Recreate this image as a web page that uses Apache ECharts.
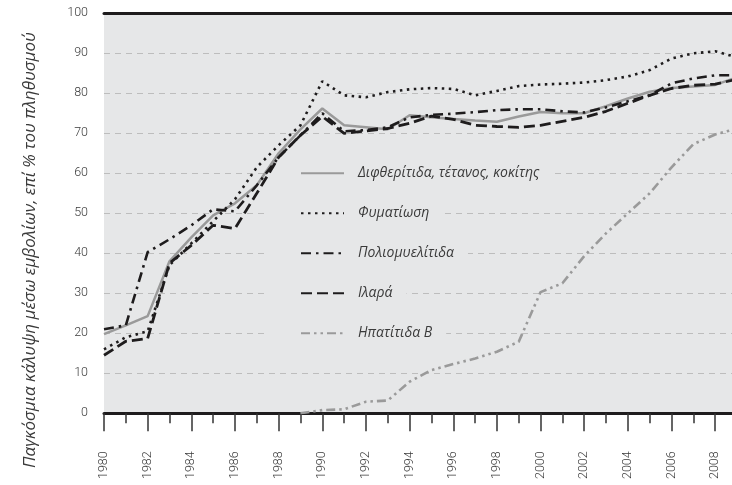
<!DOCTYPE html>
<html><head><meta charset="utf-8">
<script src="https://cdn.jsdelivr.net/npm/echarts@6/dist/echarts.min.js"></script>
<style>html,body{margin:0;padding:0;background:#fff}#c{width:732px;height:485px}</style>
</head><body><div id="c"></div>
<script>
const years = [1980,1981,1982,1983,1984,1985,1986,1987,1988,1989,1990,1991,1992,1993,1994,1995,1996,1997,1998,1999,2000,2001,2002,2003,2004,2005,2006,2007,2008,2009];
const dtp = [19.8,22,24.3,38,44,49.5,52.5,57,65,71,76.2,72,71.5,71,74.5,74,73.6,73.2,72.9,74.2,75.3,75,75,76.8,78.7,80.4,81.3,81.7,82.1,84];
const tb = [16,19,20.5,37,42.5,48,53.5,61.5,67,72,83,79.5,79,80.3,81,81.3,81.1,79.5,80.6,81.8,82.2,82.4,82.7,83.3,84.2,85.8,88.7,90,90.5,89];
const polio = [21,22,40.3,43.5,47,51,50.5,57,64,69.5,75,70.5,70.8,71.5,74,74.6,74.9,75.3,75.8,76,76,75.5,75.2,76.5,78,79.5,82.5,83.7,84.5,84.5];
const measles = [14.5,18,18.7,37.5,42,47,46.2,55,64,69.5,74.2,70,70.6,71.2,72.5,74.3,73.5,72,71.7,71.5,72,73,74,75.5,77.5,79.5,81.2,82,82.3,83.5];
const hepb = [null,null,null,null,null,null,null,null,null,0,0.8,1,2.9,3.2,7.9,10.8,12.3,13.7,15.4,17.9,30.3,32.5,39.3,45,50,55,61.5,67.3,69.7,71.2];
const names = ['Διφθερίτιδα, τέτανος, κοκίτης','Φυματίωση','Πολιομυελίτιδα','Ιλαρά','Ηπατίτιδα Β'];
const yTitle = 'Παγκόσμια κάλυψη μέσω εμβολίων, επί % του πληθυσμού';
const majorYears = [1980,1982,1984,1986,1988,1990,1992,1994,1996,1998,2000,2002,2004,2006,2008];
const minorYears = [1981,1983,1985,1987,1989,1991,1993,1995,1997,1999,2001,2003,2005,2007];

const BG = '#e6e7e8', BLACK = '#1e1c1d', GRAY = '#9a9a9a', TXT = '#3a3a3a';
const X_MIN = 1980, X_MAX = 2008.77;
const pairs = arr => years.map((y,i) => [y, arr[i]]);
const styles = [
  {color: GRAY, width: 2.5, type: 'solid'},
  {color: BLACK, width: 2.6, type: [2.5, 4.5]},
  {color: BLACK, width: 2.6, type: [10, 5, 2.5, 5]},
  {color: BLACK, width: 2.8, type: [11, 5]},
  {color: GRAY, width: 2.6, type: [9, 4, 2.5, 4, 2.5, 4]}
];
const dataSets = [dtp, tb, polio, measles, hepb];
const legendY = [173.3, 213.3, 253.3, 293.3, 333.3];
const labelFont = {fontFamily: 'Roboto', fontWeight: 300, fontSize: 12.5, color: TXT};

const chart = echarts.init(document.getElementById('c'), null, {renderer: 'canvas'});
chart.setOption({
  animation: false,
  backgroundColor: '#fff',
  grid: {left: 104, right: 0, top: 13.3, bottom: 71.7, show: true, backgroundColor: BG, borderWidth: 0},
  xAxis: [{
    type: 'value', min: X_MIN, max: X_MAX, position: 'bottom',
    axisLine: {show: true, onZero: false, lineStyle: {color: BLACK, width: 3}},
    axisTick: {show: true, customValues: majorYears, length: 18, lineStyle: {color: '#333', width: 1.5}},
    splitLine: {show: false},
    axisLabel: Object.assign({rotate: 90, margin: 38, customValues: majorYears, formatter: v => String(Math.round(v))}, labelFont)
  }, {
    type: 'value', min: X_MIN, max: X_MAX, position: 'bottom',
    axisLine: {show: false, onZero: false},
    axisTick: {show: true, customValues: minorYears, length: 10, lineStyle: {color: '#333', width: 1.5}},
    axisLabel: {show: false}, splitLine: {show: false}
  }, {
    type: 'value', min: X_MIN, max: X_MAX, position: 'top',
    axisLine: {show: true, onZero: false, lineStyle: {color: BLACK, width: 3}},
    axisTick: {show: false}, axisLabel: {show: false}, splitLine: {show: false}
  }],
  yAxis: {
    type: 'value', min: 0, max: 100, interval: 10,
    axisLine: {show: false}, axisTick: {show: false},
    axisLabel: Object.assign({margin: 16}, labelFont),
    splitLine: {show: true, lineStyle: {color: '#bdbdbd', width: 1, type: [6, 5]}}
  },
  legend: names.map((n, i) => ({
    data: [n], left: 268, top: legendY[i] - 9, orient: 'horizontal', z: 1,
    backgroundColor: BG, padding: [2, 14, 2, 32],
    itemWidth: 43, itemHeight: 14, selectedMode: false,
    itemStyle: {color: 'rgba(0,0,0,0)', borderWidth: 0, opacity: 0},
    textStyle: {fontFamily: "'Open Sans'", fontStyle: 'italic', fontSize: 14, color: TXT, padding: [0, 0, 0, 9]}
  })),
  graphic: [{
    type: 'text', x: 30, y: 250, rotation: Math.PI / 2,
    style: {text: yTitle, font: "italic 17px 'Open Sans'", fill: TXT, align: 'center', verticalAlign: 'middle'}
  }],
  series: names.map((n, i) => ({
    name: n, type: 'line', data: pairs(dataSets[i]), symbol: 'none', z: (i === 0 || i === 4) ? 2 : 3,
    lineStyle: styles[i], itemStyle: {color: styles[i].color}, connectNulls: false, clip: true
  }))
});
</script></body></html>
